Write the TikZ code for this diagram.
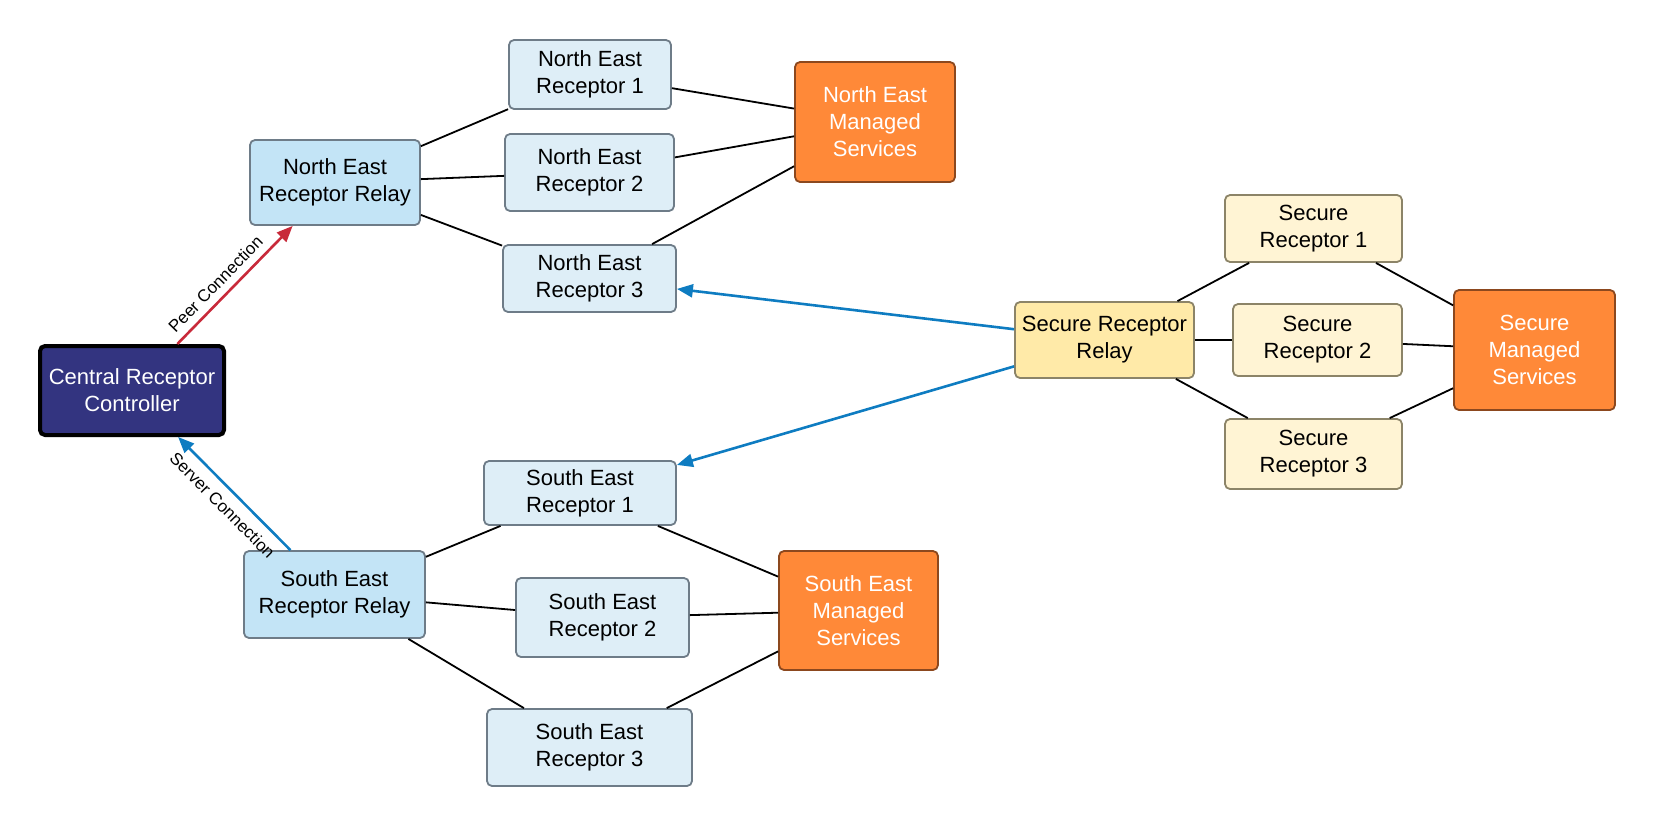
\documentclass[tikz,border=0pt]{standalone}
\usepackage{fontspec}
\setmainfont{Liberation Sans}
\usetikzlibrary{arrows.meta}
\definecolor{ctrlfill}{RGB}{51,52,128}
\definecolor{relayfill}{RGB}{195,228,246}
\definecolor{recfill}{RGB}{222,238,247}
\definecolor{boxline}{RGB}{110,124,136}
\definecolor{msfill}{RGB}{255,137,56}
\definecolor{msline}{RGB}{140,72,30}
\definecolor{srelayfill}{RGB}{255,234,168}
\definecolor{srecfill}{RGB}{255,244,212}
\definecolor{sline}{RGB}{140,132,104}
\definecolor{peercol}{RGB}{200,42,58}
\definecolor{servercol}{RGB}{14,124,193}
\begin{document}
\begin{tikzpicture}[x=1pt,y=-1pt,
  box/.style={draw,rounded corners=5pt,line width=1.8pt,inner sep=0pt,align=center,
    font=\fontsize{22}{27}\selectfont},
  ctrl/.style={box,draw=black,line width=4pt,fill=ctrlfill,text=white},
  relay/.style={box,draw=boxline,fill=relayfill},
  receptor/.style={box,draw=boxline,fill=recfill},
  managed/.style={box,draw=msline,fill=msfill,text=white},
  srelay/.style={box,draw=sline,fill=srelayfill},
  sreceptor/.style={box,draw=sline,fill=srecfill},
  link/.style={line width=1.8pt},
  conn/.style={line width=2.6pt,-{Triangle[length=16pt,width=13pt]}},
  connlabel/.style={sloped,font=\fontsize{17}{20}\selectfont,text=black}]
\useasboundingbox (0,0) rectangle (1655,828);
% drawing nodes
\node[ctrl,minimum width=184pt,minimum height=89pt] (central) at (132,390.5) {Central Receptor\\Controller};
\node[relay,minimum width=170pt,minimum height=85pt] (nerelay) at (335,182.5) {North East\\Receptor Relay};
\node[relay,minimum width=181pt,minimum height=87pt] (serelay) at (334.5,594.5) {South East\\Receptor Relay};
\node[srelay,minimum width=179pt,minimum height=76pt] (srelay) at (1104.5,340) {Secure Receptor\\Relay};
\node[managed,minimum width=160pt,minimum height=120pt] (nems) at (875,122) {North East\\Managed\\Services};
\node[managed,minimum width=159pt,minimum height=119pt] (sems) at (858.5,610.5) {South East\\Managed\\Services};
\node[managed,minimum width=161pt,minimum height=120pt] (sms) at (1534.5,350) {Secure\\Managed\\Services};
\foreach \i/\cx/\cy/\w/\h in {1/590/74.5/162/69,2/589.5/172.5/169/77,3/589.5/278.5/173/67}{
  \node[receptor,minimum width=\w pt,minimum height=\h pt] (ner\i) at (\cx,\cy) {North East\\Receptor \i};
}
\foreach \i/\cx/\cy/\w/\h in {1/580/493/192/64,2/602.5/617.5/173/79,3/589.5/747.5/205/77}{
  \node[receptor,minimum width=\w pt,minimum height=\h pt] (ser\i) at (\cx,\cy) {South East\\Receptor \i};
}
\foreach \i/\cx/\cy/\w/\h in {1/1313.5/228.5/177/67,2/1317.5/340/169/72,3/1313.5/454/177/70}{
  \node[sreceptor,minimum width=\w pt,minimum height=\h pt] (sr\i) at (\cx,\cy) {Secure\\Receptor \i};
}
% drawing edges
\foreach \i in {1,2,3}{
  \draw[link] (nerelay) -- (ner\i);
  \draw[link] (ner\i) -- (nems);
  \draw[link] (serelay) -- (ser\i);
  \draw[link] (ser\i) -- (sems);
  \draw[link] (srelay) -- (sr\i);
  \draw[link] (sr\i) -- (sms);
}
% connections
\draw[conn,peercol] (central) -- node[connlabel,above,pos=0.42,inner sep=7pt] {Peer Connection} (nerelay);
\draw[conn,servercol] (serelay) -- node[connlabel,below,pos=0.5,inner sep=9pt] {Server Connection} (central);
\draw[conn,servercol] (srelay) -- (ner3);
\draw[conn,servercol] (srelay) -- (ser1);
\end{tikzpicture}
\end{document}
